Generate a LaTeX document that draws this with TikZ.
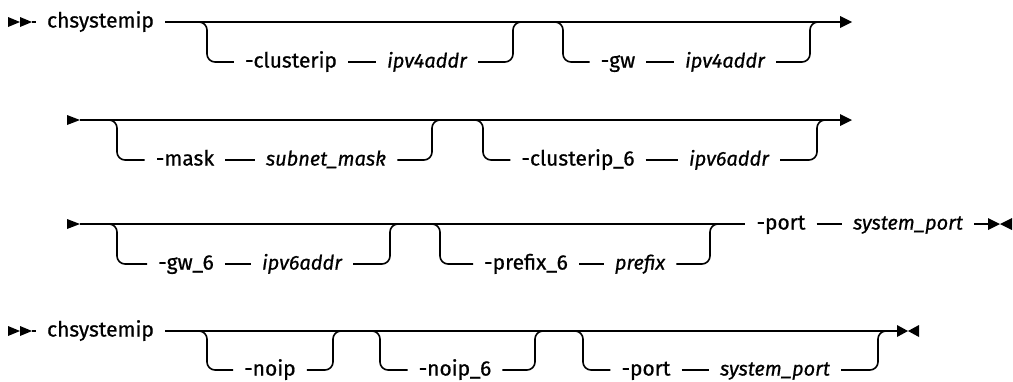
\documentclass[tikz,border=0pt]{standalone}
\usepackage{fontspec}
\setmainfont{Fira Sans}[FakeBold=0.7]
\begin{document}
\fontsize{21}{25}\selectfont
\begin{tikzpicture}[x=1pt,y=-1pt,
  rail/.style={line width=1.6pt},
  br/.style={rail, rounded corners=8pt},
  kw/.style={anchor=mid, inner xsep=11pt, inner ysep=1pt, font=\fontsize{21}{25}\selectfont},
  var/.style={kw, font=\fontsize{20}{24}\selectfont\itshape},
  tip/.style={fill=black}]
\useasboundingbox (0,0) rectangle (1013,381);

% ---------------- Row 1 ----------------
\fill[tip] (8,17) -- (20,22) -- (8,27) -- cycle;
\fill[tip] (20,17) -- (32,22) -- (20,27) -- cycle;
\coordinate (s1) at (32,22);
\node[kw] (cmd1) at (100.5,22) {chsystemip};
\coordinate (e1) at (840,22);
\draw[rail] (s1) -- (cmd1.mid west);
\draw[rail] (cmd1.mid east) -- (e1);
\fill[tip] (840,16) -- (852,22) -- (840,28) -- cycle;
% branch: -clusterip ipv4addr
\node[kw] (ci) at (291,62) {-clusterip};
\node[var] (a1) at (427,62) {ipv4addr};
\draw[br] (199,22) -- (207,22) -- (207,62) -- (ci.mid west);
\draw[rail] (ci.mid east) -- (a1.mid west);
\draw[br] (a1.mid east) -- (513,62) -- (513,22) -- (521,22);
% branch: -gw ipv4addr
\node[kw] (gw) at (618,62) {-gw};
\node[var] (a2) at (725,62) {ipv4addr};
\draw[br] (555,22) -- (563,22) -- (563,62) -- (gw.mid west);
\draw[rail] (gw.mid east) -- (a2.mid west);
\draw[br] (a2.mid east) -- (810,62) -- (810,22) -- (818,22);

% ---------------- Row 2 ----------------
\fill[tip] (67,115) -- (80,120) -- (67,125) -- cycle;
\coordinate (s2) at (80,120);
\coordinate (e2) at (840,120);
\draw[rail] (s2) -- (e2);
\fill[tip] (840,114) -- (852,120) -- (840,126) -- cycle;
% branch: -mask subnet_mask
\node[kw] (mk) at (185,160) {-mask};
\node[var] (sm) at (326,160) {subnet\_mask};
\draw[br] (109,120) -- (117,120) -- (117,160) -- (mk.mid west);
\draw[rail] (mk.mid east) -- (sm.mid west);
\draw[br] (sm.mid east) -- (432,160) -- (432,120) -- (440,120);
% branch: -clusterip_6 ipv6addr
\node[kw] (c6) at (578,160) {-clusterip\_6};
\node[var] (a3) at (729,160) {ipv6addr};
\draw[br] (475,120) -- (483,120) -- (483,160) -- (c6.mid west);
\draw[rail] (c6.mid east) -- (a3.mid west);
\draw[br] (a3.mid east) -- (817,160) -- (817,120) -- (825,120);

% ---------------- Row 3 ----------------
\fill[tip] (67,219) -- (80,224) -- (67,229) -- cycle;
\coordinate (s3) at (80,224);
\node[kw] (pt) at (781,224) {-port};
\node[var] (sp) at (908,224) {system\_port};
\draw[rail] (s3) -- (pt.mid west);
\draw[rail] (pt.mid east) -- (sp.mid west);
\coordinate (e3) at (988,224);
\draw[rail] (sp.mid east) -- (e3);
\fill[tip] (988,218) -- (1000,224) -- (988,230) -- cycle;
\fill[tip] (1012,218) -- (1000,224) -- (1012,230) -- cycle;
% branch: -gw_6 ipv6addr
\node[kw] (g6) at (186,264) {-gw\_6};
\node[var] (a4) at (302,264) {ipv6addr};
\draw[br] (109,224) -- (117,224) -- (117,264) -- (g6.mid west);
\draw[rail] (g6.mid east) -- (a4.mid west);
\draw[br] (a4.mid east) -- (390,264) -- (390,224) -- (398,224);
% branch: -prefix_6 prefix
\node[kw] (p6) at (526,264) {-prefix\_6};
\node[var] (pf) at (640,264) {prefix};
\draw[br] (432,224) -- (440,224) -- (440,264) -- (p6.mid west);
\draw[rail] (p6.mid east) -- (pf.mid west);
\draw[br] (pf.mid east) -- (710,264) -- (710,224) -- (718,224);

% ---------------- Row 4 ----------------
\fill[tip] (8,326) -- (20,331) -- (8,336) -- cycle;
\fill[tip] (20,326) -- (32,331) -- (20,336) -- cycle;
\coordinate (s4) at (32,331);
\node[kw] (cmd2) at (100.5,331) {chsystemip};
\coordinate (e4) at (897,331);
\draw[rail] (s4) -- (cmd2.mid west);
\draw[rail] (cmd2.mid east) -- (e4);
\fill[tip] (897,325) -- (908,331) -- (897,337) -- cycle;
\fill[tip] (919,325) -- (908,331) -- (919,337) -- cycle;
% branch: -noip
\node[kw] (ni) at (270,370) {-noip};
\draw[br] (199,331) -- (207,331) -- (207,370) -- (ni.mid west);
\draw[br] (ni.mid east) -- (333,370) -- (333,331) -- (341,331);
% branch: -noip_6
\node[kw] (n6) at (455,370) {-noip\_6};
\draw[br] (372,331) -- (380,331) -- (380,370) -- (n6.mid west);
\draw[br] (n6.mid east) -- (535,370) -- (535,331) -- (543,331);
% branch: -port system_port
\node[kw] (pt2) at (646,370) {-port};
\node[var] (sp2) at (775,370) {system\_port};
\draw[br] (575,331) -- (583,331) -- (583,370) -- (pt2.mid west);
\draw[rail] (pt2.mid east) -- (sp2.mid west);
\draw[br] (sp2.mid east) -- (878,370) -- (878,331) -- (886,331);
\end{tikzpicture}
\end{document}
